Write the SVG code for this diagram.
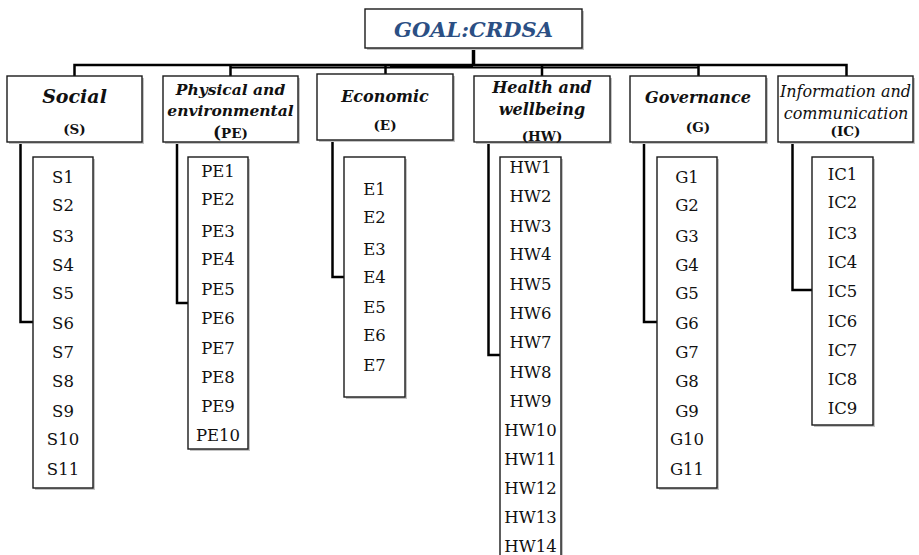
<svg xmlns="http://www.w3.org/2000/svg" width="919" height="555" viewBox="0 0 919 555">
<style>
.box{fill:#fff;stroke:#1a1a1a;stroke-width:1.4}
.sh{fill:#c4c4c4}
.conn{fill:none;stroke:#000;stroke-width:2.5}
.cat{font-family:"DejaVu Serif","Liberation Serif",serif;font-weight:bold;font-style:italic;fill:#111;text-anchor:middle}
.ab{font-family:"DejaVu Serif","Liberation Serif",serif;font-weight:bold;font-size:13.5px;fill:#111;text-anchor:middle}
.it{font-family:"DejaVu Serif","Liberation Serif",serif;font-size:16.5px;fill:#111;text-anchor:middle}
.ic{font-family:"DejaVu Serif","Liberation Serif",serif;font-style:italic;font-size:16px;fill:#111;text-anchor:middle}
</style>
<rect width="919" height="555" fill="#fff"/>
<g id="connectors">
<line x1="473.5" y1="48" x2="473.5" y2="65" style="stroke:#000;stroke-width:3.5"/>
<polyline class="conn" points="74.5,76 74.5,65 846.5,65 846.5,76"/>
<line x1="230" y1="67.5" x2="699" y2="67.5" style="stroke:#000;stroke-width:2"/>
<line x1="390" y1="66" x2="473" y2="66" style="stroke:#000;stroke-width:4"/>
<line x1="230.5" y1="65" x2="230.5" y2="76" class="conn"/>
<line x1="385.5" y1="65" x2="385.5" y2="74" class="conn"/>
<line x1="542" y1="65" x2="542" y2="76" class="conn"/>
<line x1="698.5" y1="65" x2="698.5" y2="76" class="conn"/>
<polyline class="conn" points="20.5,142 20.5,322 33,322"/>
<polyline class="conn" points="177,142 177,303 188,303"/>
<polyline class="conn" points="332.5,140 332.5,277 344,277"/>
<polyline class="conn" points="488.5,142 488.5,355 500,355"/>
<polyline class="conn" points="644,142 644,322 657,322"/>
<polyline class="conn" points="792.5,142 792.5,290 812,290"/>
</g>
<g id="goal">
<rect class="sh" x="367" y="11" width="217" height="39"/>
<rect class="box" x="365" y="9" width="217" height="39"/>
<text x="473.5" y="37" style="font-family:'DejaVu Serif','Liberation Serif',serif;font-weight:bold;font-style:italic;font-size:21px;fill:#2b4f84;text-anchor:middle">GOAL:CRDSA</text>
</g>
<g id="cat-social">
<rect class="sh" x="9" y="78" width="135" height="66"/>
<rect class="box" x="7" y="76" width="135" height="66"/>
<text class="cat" x="74.5" y="103" style="font-size:19px">Social</text>
<text class="ab" x="74.5" y="134">(S)</text>
</g>
<g id="cat-pe">
<rect class="sh" x="165" y="78" width="135" height="66"/>
<rect class="box" x="163" y="76" width="135" height="66"/>
<text class="cat" x="230.5" y="95" style="font-size:15.5px">Physical and</text>
<text class="cat" x="230.5" y="116" style="font-size:15.5px">environmental</text>
<text class="ab" x="230.5" y="138"><tspan style="font-size:17px">(</tspan>PE)</text>
</g>
<g id="cat-e">
<rect class="sh" x="319" y="76" width="136" height="66"/>
<rect class="box" x="317" y="74" width="136" height="66"/>
<text class="cat" x="385" y="102" style="font-size:16px">Economic</text>
<text class="ab" x="385" y="130">(E)</text>
</g>
<g id="cat-hw">
<rect class="sh" x="476" y="78" width="136" height="66"/>
<rect class="box" x="474" y="76" width="136" height="66"/>
<text class="cat" x="542" y="93" style="font-size:16px">Health and</text>
<text class="cat" x="542" y="115" style="font-size:16px">wellbeing</text>
<text class="ab" x="542" y="141">(HW)</text>
</g>
<g id="cat-g">
<rect class="sh" x="632" y="78" width="136" height="66"/>
<rect class="box" x="630" y="76" width="136" height="66"/>
<text class="cat" x="698" y="103" style="font-size:16px">Governance</text>
<text class="ab" x="698" y="132">(G)</text>
</g>
<g id="cat-ic">
<rect class="sh" x="780" y="78" width="135" height="66"/>
<rect class="box" x="778" y="76" width="135" height="66"/>
<text class="ic" x="845.5" y="97">Information and</text>
<text class="ic" x="846" y="119">communication</text>
<text class="ab" x="845.5" y="136">(IC)</text>
</g>
<g id="items-s">
<rect class="sh" x="35" y="159" width="60" height="331"/>
<rect class="box" x="33" y="157" width="60" height="331"/>
<text class="it" x="63" y="183">S1</text><text class="it" x="63" y="211">S2</text><text class="it" x="63" y="242">S3</text><text class="it" x="63" y="271">S4</text><text class="it" x="63" y="299">S5</text><text class="it" x="63" y="329">S6</text><text class="it" x="63" y="358">S7</text><text class="it" x="63" y="387">S8</text><text class="it" x="63" y="417">S9</text><text class="it" x="63" y="445">S10</text><text class="it" x="63" y="475">S11</text>
</g>
<g id="items-pe">
<rect class="sh" x="190" y="159" width="60" height="292"/>
<rect class="box" x="188" y="157" width="60" height="292"/>
<text class="it" x="218" y="177">PE1</text><text class="it" x="218" y="205">PE2</text><text class="it" x="218" y="237">PE3</text><text class="it" x="218" y="265">PE4</text><text class="it" x="218" y="295">PE5</text><text class="it" x="218" y="324">PE6</text><text class="it" x="218" y="354">PE7</text><text class="it" x="218" y="383">PE8</text><text class="it" x="218" y="412">PE9</text><text class="it" x="218" y="441">PE10</text>
</g>
<g id="items-e">
<rect class="sh" x="346" y="159" width="61" height="240"/>
<rect class="box" x="344" y="157" width="61" height="240"/>
<text class="it" x="374.5" y="195">E1</text><text class="it" x="374.5" y="223">E2</text><text class="it" x="374.5" y="255">E3</text><text class="it" x="374.5" y="283">E4</text><text class="it" x="374.5" y="313">E5</text><text class="it" x="374.5" y="341">E6</text><text class="it" x="374.5" y="371">E7</text>
</g>
<g id="items-hw">
<rect class="sh" x="502" y="159" width="61" height="410"/>
<rect class="box" x="500" y="157" width="61" height="410"/>
<text class="it" x="530.5" y="173">HW1</text><text class="it" x="530.5" y="202">HW2</text><text class="it" x="530.5" y="232">HW3</text><text class="it" x="530.5" y="260">HW4</text><text class="it" x="530.5" y="290">HW5</text><text class="it" x="530.5" y="319">HW6</text><text class="it" x="530.5" y="348">HW7</text><text class="it" x="530.5" y="378">HW8</text><text class="it" x="530.5" y="407">HW9</text><text class="it" x="530.5" y="436">HW10</text><text class="it" x="530.5" y="465">HW11</text><text class="it" x="530.5" y="494">HW12</text><text class="it" x="530.5" y="523">HW13</text><text class="it" x="530.5" y="552">HW14</text>
</g>
<g id="items-g">
<rect class="sh" x="659" y="159" width="60" height="331"/>
<rect class="box" x="657" y="157" width="60" height="331"/>
<text class="it" x="687" y="183">G1</text><text class="it" x="687" y="211">G2</text><text class="it" x="687" y="242">G3</text><text class="it" x="687" y="271">G4</text><text class="it" x="687" y="299">G5</text><text class="it" x="687" y="329">G6</text><text class="it" x="687" y="358">G7</text><text class="it" x="687" y="387">G8</text><text class="it" x="687" y="417">G9</text><text class="it" x="687" y="445">G10</text><text class="it" x="687" y="475">G11</text>
</g>
<g id="items-ic">
<rect class="sh" x="814" y="159" width="61" height="268"/>
<rect class="box" x="812" y="157" width="61" height="268"/>
<text class="it" x="842.5" y="180">IC1</text><text class="it" x="842.5" y="208">IC2</text><text class="it" x="842.5" y="239">IC3</text><text class="it" x="842.5" y="268">IC4</text><text class="it" x="842.5" y="297">IC5</text><text class="it" x="842.5" y="327">IC6</text><text class="it" x="842.5" y="356">IC7</text><text class="it" x="842.5" y="385">IC8</text><text class="it" x="842.5" y="414">IC9</text>
</g>
</svg>
